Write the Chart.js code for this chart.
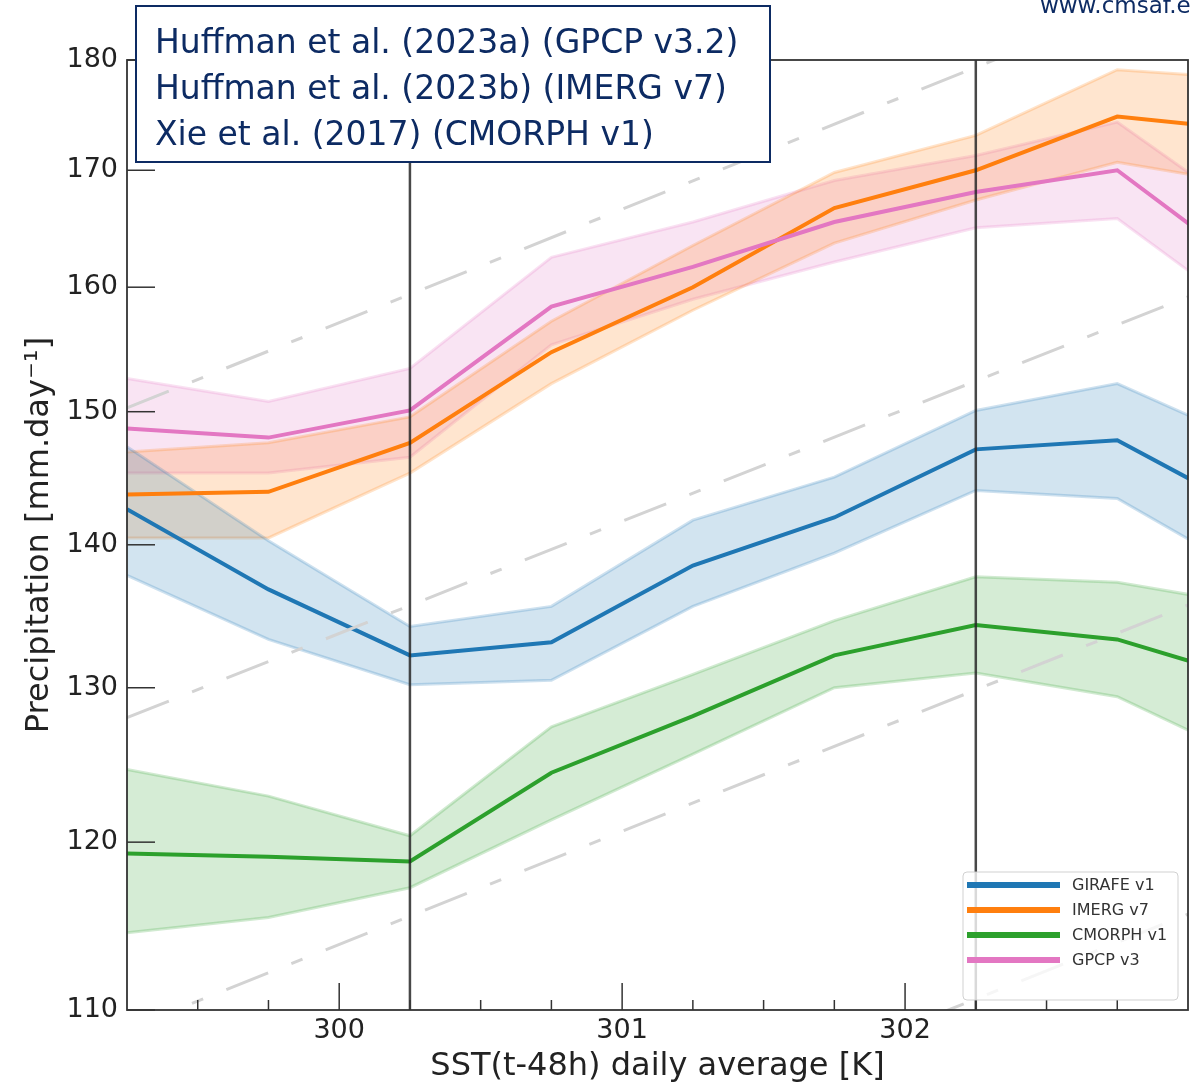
<!DOCTYPE html>
<html>
<head>
<meta charset="utf-8">
<script src="https://cdn.jsdelivr.net/npm/chart.js@4.4.1/dist/chart.umd.min.js"></script>
<style>
  html, body { margin: 0; padding: 0; background: #fff; }
  #wrap { width: 1190px; height: 1084px; position: relative; }
</style>
</head>
<body>
<div id="wrap"><canvas id="grafico"></canvas></div>
<script>
// centros das classes de SST (K)
const sst = [299.25, 299.75, 300.25, 300.75, 301.25, 301.75, 302.25, 302.75, 303.25];

// GIRAFE v1
const girafeMedia = [142.6, 136.8, 132.2, 133.1, 138.5, 142.0, 147.1, 147.8, 142.1];
const girafeSup   = [147.3, 140.3, 134.2, 135.6, 141.8, 145.0, 150.1, 152.2, 147.3];
const girafeInf   = [137.8, 133.3, 130.2, 130.5, 135.6, 139.4, 144.0, 143.4, 137.5];

// IMERG v7
const imergMedia = [143.7, 143.9, 147.6, 154.7, 160.0, 166.7, 170.0, 174.8, 173.5];
const imergSup   = [146.9, 147.6, 149.6, 157.2, 163.5, 169.8, 173.1, 179.1, 178.2];
const imergInf   = [140.5, 140.5, 145.3, 152.2, 158.1, 163.7, 167.4, 170.7, 168.6];

// CMORPH v1
const cmorphMedia = [119.3, 119.1, 118.8, 124.4, 128.1, 132.2, 134.3, 133.3, 130.4];
const cmorphSup   = [124.6, 122.9, 120.4, 127.4, 130.9, 134.6, 137.7, 137.3, 135.6];
const cmorphInf   = [114.5, 115.4, 117.2, 121.4, 125.6, 130.0, 131.0, 129.4, 125.0];

// GPCP v3
const gpcpMedia = [148.7, 148.0, 150.1, 158.4, 161.7, 165.5, 168.1, 170.0, 160.9];
const gpcpSup   = [152.6, 150.8, 153.4, 162.5, 165.5, 169.1, 171.3, 174.3, 165.5];
const gpcpInf   = [145.3, 145.3, 146.5, 155.3, 159.0, 162.1, 165.0, 165.8, 157.1];

// retas de referência (tracejadas): extremos em x e valores
const refX = [299.25, 303.0];
const refA = [150.3, 187.4];
const refB = [128.0, 159.2];
const refC = [108.9, 135.7];
const refD = [92.8, 115.6];

// linhas verticais
const linhasVerticais = [300.25, 302.25];

// ticks
const xTicks = [300, 301, 302];
const xTicksMenores = [299.5, 299.75, 300.25, 300.5, 300.75, 301.25, 301.5, 301.75, 302.25, 302.5, 302.75];
const yTicks = [110, 120, 130, 140, 150, 160, 170, 180];

const nomes = ['GIRAFE v1', 'IMERG v7', 'CMORPH v1', 'GPCP v3'];
const cores = ['31,119,180', '255,127,14', '44,160,44', '227,119,194'];

const textoCaixa = [
  'Huffman et al. (2023a) (GPCP v3.2)',
  'Huffman et al. (2023b) (IMERG v7)',
  'Xie et al. (2017) (CMORPH v1)'
];

const FONTE = "'DejaVu Sans', sans-serif";
const AZUL_ESCURO = '#0d2b63';

function pontos(xs, ys) {
  return ys.map((y, i) => ({ x: xs[i], y: y }));
}

function serie(nome, rgb, media, sup, inf, ordem) {
  const c = a => 'rgba(' + rgb + ',' + a + ')';
  return [
    { label: nome + ' sup', data: pontos(sst, sup), borderColor: c(0.22), backgroundColor: c(0.2),
      borderWidth: 3, fill: '+1', order: 10 },
    { label: nome + ' inf', data: pontos(sst, inf), borderColor: c(0.22), backgroundColor: c(0.2),
      borderWidth: 3, fill: false, order: 10 },
    { label: nome, data: pontos(sst, media), borderColor: c(1), borderWidth: 4, fill: false, order: ordem }
  ];
}

function tracejada(vals) {
  return { label: 'ref', data: pontos(refX, vals), borderColor: '#d3d3d3', borderWidth: 3,
    borderDash: [45, 25, 12, 25], fill: false, order: 1 };
}

const datasets = [].concat(
  serie(nomes[0], cores[0], girafeMedia, girafeSup, girafeInf, 5),
  serie(nomes[1], cores[1], imergMedia, imergSup, imergInf, 4),
  serie(nomes[2], cores[2], cmorphMedia, cmorphSup, cmorphInf, 3),
  serie(nomes[3], cores[3], gpcpMedia, gpcpSup, gpcpInf, 2),
  [tracejada(refA), tracejada(refB), tracejada(refC), tracejada(refD)]
);

// desenha moldura, ticks internos, linhas verticais, legenda e caixa de texto
const decoracao = {
  id: 'decoracao',
  afterDraw(chart) {
    const ctx = chart.ctx;
    const a = chart.chartArea;
    const sx = chart.scales.x;
    const sy = chart.scales.y;
    ctx.save();

    // linhas verticais
    ctx.strokeStyle = 'rgba(40,40,40,0.85)';
    ctx.lineWidth = 2.5;
    linhasVerticais.forEach(v => {
      const px = sx.getPixelForValue(v);
      ctx.beginPath();
      ctx.moveTo(px, a.top);
      ctx.lineTo(px, a.bottom);
      ctx.stroke();
    });

    // moldura
    ctx.strokeStyle = '#333';
    ctx.lineWidth = 1.8;
    ctx.strokeRect(a.left, a.top, a.right - a.left, a.bottom - a.top);

    // ticks para dentro
    ctx.lineWidth = 1.5;
    xTicks.forEach(v => {
      const px = sx.getPixelForValue(v);
      ctx.beginPath(); ctx.moveTo(px, a.bottom); ctx.lineTo(px, a.bottom - 27); ctx.stroke();
    });
    xTicksMenores.forEach(v => {
      const px = sx.getPixelForValue(v);
      ctx.beginPath(); ctx.moveTo(px, a.bottom); ctx.lineTo(px, a.bottom - 10); ctx.stroke();
    });
    yTicks.forEach(v => {
      const py = sy.getPixelForValue(v);
      ctx.beginPath(); ctx.moveTo(a.left, py); ctx.lineTo(a.left + 28, py); ctx.stroke();
    });

    // legenda
    const lx = 963, ly = 872, lw = 215, lh = 128;
    ctx.fillStyle = 'rgba(255,255,255,0.8)';
    ctx.strokeStyle = 'rgba(204,204,204,0.9)';
    ctx.lineWidth = 1;
    ctx.beginPath();
    ctx.roundRect(lx, ly, lw, lh, 4);
    ctx.fill();
    ctx.stroke();
    ctx.font = '16px ' + FONTE;
    ctx.textBaseline = 'middle';
    ctx.textAlign = 'left';
    nomes.forEach((n, i) => {
      const yy = 885 + i * 25;
      ctx.strokeStyle = 'rgb(' + cores[i] + ')';
      ctx.lineWidth = 6;
      ctx.beginPath(); ctx.moveTo(967, yy); ctx.lineTo(1060, yy); ctx.stroke();
      ctx.fillStyle = '#333';
      ctx.fillText(n, 1072, yy + 1);
    });

    // caixa das referências
    ctx.fillStyle = '#fff';
    ctx.fillRect(136, 6, 634, 156);
    ctx.strokeStyle = AZUL_ESCURO;
    ctx.lineWidth = 2;
    ctx.strokeRect(136, 6, 634, 156);
    ctx.fillStyle = AZUL_ESCURO;
    ctx.font = '33px ' + FONTE;
    ctx.textBaseline = 'alphabetic';
    textoCaixa.forEach((t, i) => ctx.fillText(t, 155, 53 + i * 46));

    // site
    ctx.font = '23px ' + FONTE;
    ctx.fillText('www.cmsaf.eu', 1040, 13);

    ctx.restore();
  }
};

const ctxGrafico = document.getElementById('grafico').getContext('2d');
new Chart(ctxGrafico, {
  type: 'line',
  data: { datasets: datasets },
  options: {
    responsive: true,
    maintainAspectRatio: false,
    animation: false,
    layout: { padding: { top: 60, right: 2, left: 0, bottom: 0 } },
    elements: { point: { radius: 0 }, line: { tension: 0 } },
    plugins: { legend: { display: false }, tooltip: { enabled: false } },
    scales: {
      x: {
        type: 'linear',
        min: 299.25,
        max: 303.0,
        afterBuildTicks: s => { s.ticks = xTicks.map(v => ({ value: v })); },
        afterFit: s => { s.height = 74; },
        grid: { display: false, drawTicks: false },
        border: { display: false },
        ticks: { padding: 5, color: '#222', maxRotation: 0, autoSkip: false,
          font: { size: 27, family: FONTE }, callback: v => String(v) },
        title: { display: true, text: 'SST(t-48h) daily average [K]', color: '#222',
          font: { size: 32, family: FONTE, lineHeight: 1 }, padding: { top: 0, bottom: 1 } }
      },
      y: {
        type: 'logarithmic',
        min: 110,
        max: 180,
        afterBuildTicks: s => { s.ticks = yTicks.map(v => ({ value: v })); },
        afterFit: s => { s.width = 127; },
        grid: { display: false, drawTicks: false },
        border: { display: false },
        ticks: { padding: 9, color: '#222', autoSkip: false,
          font: { size: 27, family: FONTE }, callback: v => String(v) },
        title: { display: true, text: 'Precipitation [mm.day\u207B\u00B9]', color: '#222',
          font: { size: 32, family: FONTE }, padding: { top: 20, bottom: 0 } }
      }
    }
  },
  plugins: [decoracao]
});
</script>
</body>
</html>
